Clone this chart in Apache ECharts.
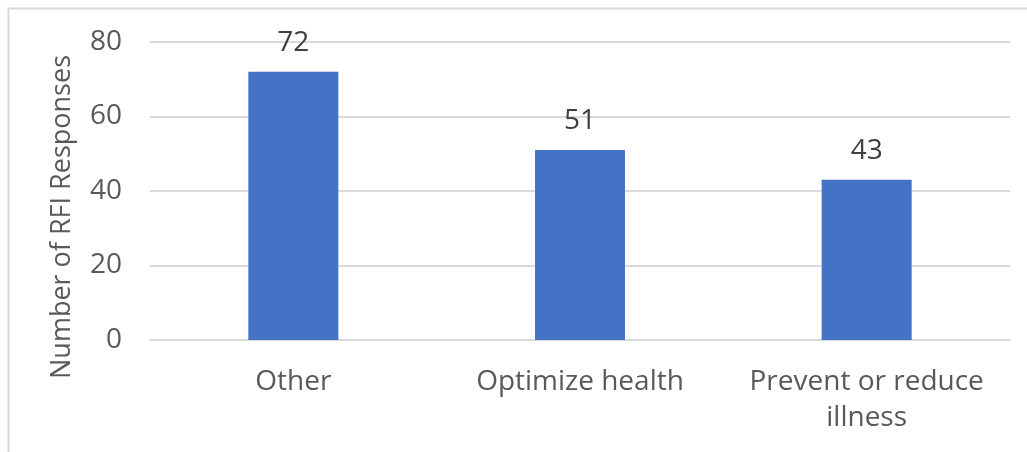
<!DOCTYPE html>
<html>
<head>
<meta charset="utf-8">
<title>RFI Responses</title>
<script src="https://cdn.jsdelivr.net/npm/echarts@6/dist/echarts.min.js"></script>
<style>
  html, body { margin: 0; padding: 0; background: #fff; }
  #chart { width: 1027px; height: 452px; }
</style>
</head>
<body>
<div id="chart"></div>
<script>
const categories = ['Other', 'Optimize health', 'Prevent or reduce\nillness']
const responses = [72, 51, 43]
const yTicks = [0, 20, 40, 60, 80]

const textColor = '#595959'
const fontFamily = '"Open Sans", "Liberation Sans", sans-serif'

const chart = echarts.init(document.getElementById('chart'))

const option = {
  animation: false,
  backgroundColor: '#fff',
  grid: {
    left: 150,
    right: 17,
    top: 42,
    bottom: 112
  },
  graphic: [
    {
      // chart frame (only left and top edges are visible)
      type: 'rect',
      shape: { x: 8.5, y: 8.5, width: 1200, height: 600 },
      style: { fill: 'none', stroke: '#d9d9d9', lineWidth: 2 },
      silent: true
    },
    {
      type: 'text',
      x: 62,
      y: 217,
      rotation: Math.PI / 2,
      style: {
        text: 'Number of RFI Responses',
        fill: textColor,
        font: '27px ' + fontFamily,
        align: 'center',
        verticalAlign: 'middle'
      }
    }
  ],
  xAxis: {
    type: 'category',
    data: categories,
    axisLine: { show: true, lineStyle: { color: '#d9d9d9', width: 2 } },
    axisTick: { show: false },
    axisLabel: {
      color: textColor,
      fontFamily: fontFamily,
      fontSize: 28,
      lineHeight: 36,
      margin: 24,
      interval: 0
    }
  },
  yAxis: {
    type: 'value',
    min: yTicks[0],
    max: yTicks[yTicks.length - 1],
    interval: 20,
    axisLine: { show: false },
    axisTick: { show: false },
    splitLine: { lineStyle: { color: '#d9d9d9', width: 2 } },
    axisLabel: {
      color: textColor,
      fontFamily: fontFamily,
      fontSize: 28,
      margin: 28
    }
  },
  series: [
    {
      type: 'bar',
      data: responses,
      barWidth: 90,
      itemStyle: { color: '#4472C4' },
      label: {
        show: true,
        position: 'top',
        distance: 15,
        color: '#404040',
        fontFamily: fontFamily,
        fontSize: 28
      }
    }
  ]
}

chart.setOption(option)
window.addEventListener('resize', () => chart.resize())
</script>
</body>
</html>
